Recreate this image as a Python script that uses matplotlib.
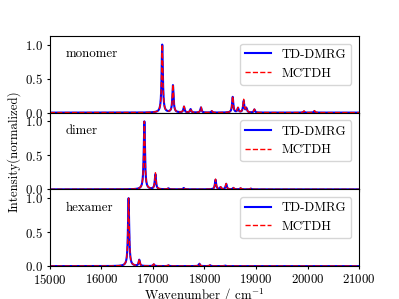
import numpy as np
import matplotlib.pyplot as plt

plt.rcParams['font.family'] = 'serif'
plt.rcParams['font.serif'] = ['cmr10', 'DejaVu Serif']
plt.rcParams['mathtext.fontset'] = 'cm'
plt.rcParams['axes.formatter.use_mathtext'] = True
plt.rcParams['font.size'] = 9.3
plt.rcParams['xtick.major.size'] = 2.2
plt.rcParams['ytick.major.size'] = 2.2
plt.rcParams['xtick.major.pad'] = 2.8
plt.rcParams['ytick.major.pad'] = 2.8

# peak positions (cm-1) and heights
mono_pos = [17180, 17388, 17602, 17730, 17932, 18140, 18547, 18650, 18760, 18812, 18968, 19930, 20132]
mono_dmrg = [1.0, 0.40, 0.085, 0.05, 0.075, 0.02, 0.23, 0.065, 0.17, 0.06, 0.045, 0.015, 0.02]
mono_mctdh = [1.0, 0.41, 0.09, 0.055, 0.08, 0.025, 0.24, 0.07, 0.19, 0.065, 0.05, 0.025, 0.03]

dimer_pos = [16833, 17047, 17300, 17596, 18214, 18311, 18421, 18560, 18700, 18900]
dimer_dmrg = [1.0, 0.22, 0.015, 0.02, 0.14, 0.03, 0.08, 0.02, 0.015, 0.01]
dimer_mctdh = [1.0, 0.24, 0.02, 0.025, 0.15, 0.035, 0.085, 0.025, 0.02, 0.015]

hex_pos = [16527, 16734, 17015, 17300, 17900, 18108, 18400]
hex_dmrg = [1.0, 0.09, 0.025, 0.01, 0.035, 0.012, 0.008]
hex_mctdh = [1.0, 0.10, 0.03, 0.015, 0.04, 0.018, 0.012]

labels = ['monomer', 'dimer', 'hexamer']
width = 14.0

x = np.linspace(15000, 21000, 12001)


def spectrum(pos, amp):
    y = np.zeros_like(x)
    for p, a in zip(pos, amp):
        y += a / (1 + ((x - p) / width) ** 2)
    return y


data = [(mono_pos, mono_dmrg, mono_mctdh),
        (dimer_pos, dimer_dmrg, dimer_mctdh),
        (hex_pos, hex_dmrg, hex_mctdh)]

fig, axes = plt.subplots(3, 1, sharex=True, figsize=(3.99, 2.99), dpi=100)
fig.subplots_adjust(hspace=0, left=0.125, right=0.9, top=0.88, bottom=0.11)

for ax, (pos, a1, a2), lab in zip(axes, data, labels):
    ax.plot(x, spectrum(pos, a1), color='blue', lw=1.5, label='TD-DMRG')
    ax.plot(x, spectrum(pos, a2), color='red', lw=1.0, ls='--', label='MCTDH')
    ax.set_ylim(0, 1.13)
    ax.set_yticks([0, 0.5, 1.0])
    ax.text(0.05, 0.76, lab, transform=ax.transAxes, va='center')
    ax.legend(loc='upper right', borderaxespad=0.6)

axes[-1].set_xlim(15000, 21000)
axes[-1].set_xticks([15000, 16000, 17000, 18000, 19000, 20000, 21000])
axes[-1].set_xlabel(r'Wavenumber / cm$^{-1}$', labelpad=0)
axes[1].set_ylabel('Intensity(normalized)', labelpad=3)

fig.savefig('out.png', dpi=100)
